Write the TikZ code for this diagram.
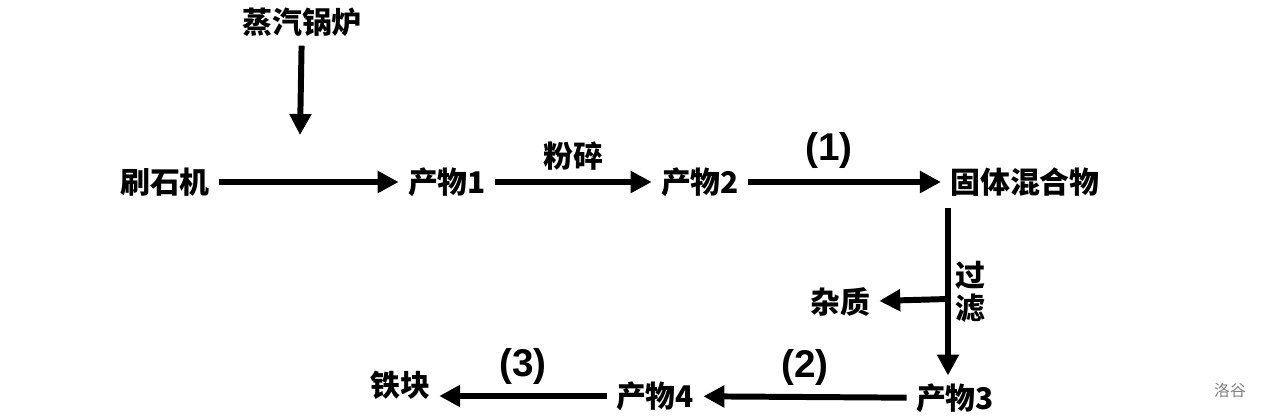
\documentclass[tikz,border=0pt]{standalone}
\usepackage{fontspec}
\setmainfont{Liberation Sans}
\newfontfamily\cjk{Noto Sans CJK SC}
\usetikzlibrary{arrows.meta}
\tikzset{
  box/.style={inner sep=0.18cm, font=\cjk\bfseries\fontsize{17}{19}\selectfont},
  stage/.style={font=\bfseries\fontsize{22}{24}\selectfont},
  flow/.style={-{Triangle[length=0.42cm,width=0.42cm]}, line width=3.4pt}
}
\begin{document}
\begin{tikzpicture}
  \useasboundingbox (0,0) rectangle (25.36,8.36);
  % Nodes
  \node (boiler) [box] at (6.04, 7.92) {蒸汽锅炉};
  \node (brush) [box] at (3.30, 4.72) {刷石机};
  \node (p1) [box] at (8.94, 4.72) {产物1};
  \node (p2) [box] at (14.0, 4.72) {产物2};
  \node (mix) [box] at (20.5, 4.72) {固体混合物};
  \node (waste) [box] at (16.8, 2.32) {杂质};
  \node (p3) [box] at (19.1, 0.40) {产物3};
  \node (p4) [box] at (13.1, 0.44) {产物4};
  \node (iron) [box] at (8.0, 0.66) {铁块};
  \coordinate (join) at (6.0, 5.66);
  \coordinate (top) at (18.96, 4.20);
  \coordinate (bottom) at (18.96, 0.85);
  \coordinate (tap) at (18.96, 2.38);
  % Arrows
  \draw[flow] (boiler) -- (join);
  \draw[flow] (brush) -- (p1);
  \draw[flow] (p1) -- node[box, above] {粉碎} (p2);
  \draw[flow] (p2) -- node[stage, above=0.1cm, pos=0.42] {(1)} (mix.west |- p2);
  \draw[flow] (top) -- node[box, right, align=center, inner sep=0.1cm] {过\\滤} (bottom);
  \draw[flow] (tap) -- (waste);
  \draw[flow] (p3) -- node[stage, above=0.05cm] {(2)} (p4);
  \draw[flow] (p4) -- node[stage, above=0.05cm] {(3)} (iron.east |- p4.west);
  % Watermark
  \node (mark) [font=\cjk\small, text=gray] at (24.6, 0.56) {洛谷};
\end{tikzpicture}
\end{document}
